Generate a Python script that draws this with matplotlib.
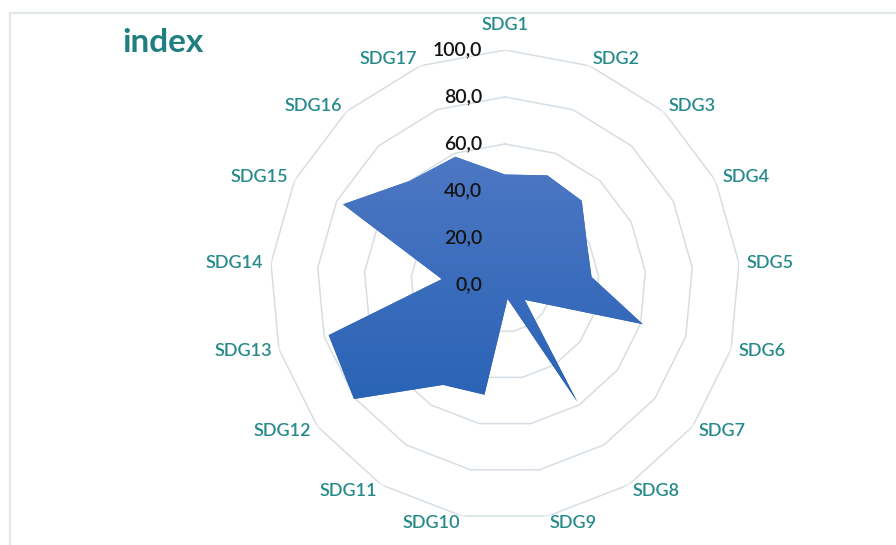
import numpy as np
import matplotlib
matplotlib.use("Agg")
from matplotlib import pyplot as plt
from matplotlib import transforms
from matplotlib.lines import Line2D
from matplotlib.colors import LinearSegmentedColormap

plt.rcParams['font.family'] = ['Lato', 'DejaVu Sans']

# data
goals = ["SDG1", "SDG2", "SDG3", "SDG4", "SDG5", "SDG6", "SDG7", "SDG8", "SDG9",
         "SDG10", "SDG11", "SDG12", "SDG13", "SDG14", "SDG15", "SDG16", "SDG17"]
index_values = [47, 50, 48.5, 39, 37, 61, 10.5, 58.5, 6,
                47.5, 50, 80.5, 78, 27, 77, 60, 58.5]
ring_values = [0, 20, 40, 60, 80, 100]
ring_labels = ["0,0", "20,0", "40,0", "60,0", "80,0", "100,0"]

teal = "#268a8a"
grid_col = "#d6dee4"

fig = plt.figure(figsize=(8.96, 5.45), dpi=100)
fig.patch.set_facecolor("white")

# light frame (top and left edges visible)
fy = (545 - 13) / 545
fx = 10 / 896
fig.lines.append(Line2D([fx, 1.0], [fy, fy], transform=fig.transFigure,
                        color="#e2e8ec", lw=1.6))
fig.lines.append(Line2D([fx, fx], [0, fy], transform=fig.transFigure,
                        color="#e2e8ec", lw=1.6))

rect = [0.3013, 0.0459, 0.5246, 0.8624]


def polar_axes(r, z):
    a = fig.add_axes(r, projection="polar", zorder=z)
    a.set_theta_zero_location("N")
    a.set_theta_direction(-1)
    a.set_ylim(0, 100)
    a.grid(False)
    a.spines["polar"].set_visible(False)
    a.set_xticks([])
    a.set_yticks([])
    a.patch.set_alpha(0)
    return a


ax = polar_axes(rect, 1)

n = len(goals)
theta = np.arange(n) * 2 * np.pi / n
theta_c = np.append(theta, theta[0])

# polygon grid rings
for rv in ring_values[1:]:
    ax.plot(theta_c, [rv] * (n + 1), color=grid_col, lw=1.1, zorder=1)

# filled area (also used as clip path for the gradient)
vals_c = np.append(index_values, index_values[0])
poly = ax.fill(theta_c, vals_c, color="#3a6dbf", lw=0, zorder=2)[0]

# vertical gradient clipped to the filled polygon
gax = fig.add_axes([0, 0, 1, 1], zorder=2)
gax.set_axis_off()
gax.patch.set_alpha(0)
grad = np.linspace(0, 1, 256).reshape(-1, 1)
gcmap = LinearSegmentedColormap.from_list("g", ["#2560b4", "#5079c4"])
im = gax.imshow(grad, cmap=gcmap, aspect="auto", origin="lower",
                extent=[0, 1, 0.2, 0.75], transform=fig.transFigure)
im.set_clip_path(poly)

# text layer on top
tax = polar_axes(rect, 3)

# radial value labels
off = transforms.offset_copy(tax.transData, fig=fig, x=-23, y=0, units="dots")
for rv, lab in zip(ring_values, ring_labels):
    tax.text(0, rv, lab, transform=off, ha="right", va="center",
             fontsize=14, fontweight="semibold", color="#151515")

# category labels
for th, name in zip(theta, goals):
    s = np.sin(th)
    if abs(s) < 1e-6:
        tax.text(th, 110.5, name, ha="center", va="center", fontsize=13,
                 fontweight="semibold", color=teal)
    else:
        tax.text(th, 103.2, name, ha="left" if s > 0 else "right", va="center",
                 fontsize=13, fontweight="semibold", color=teal)

fig.text(122 / 896, (545 - 52) / 545, "index", ha="left", va="baseline",
         fontsize=24, fontweight="bold", color="#1f7e7f")

fig.savefig("out.png", dpi=100)
